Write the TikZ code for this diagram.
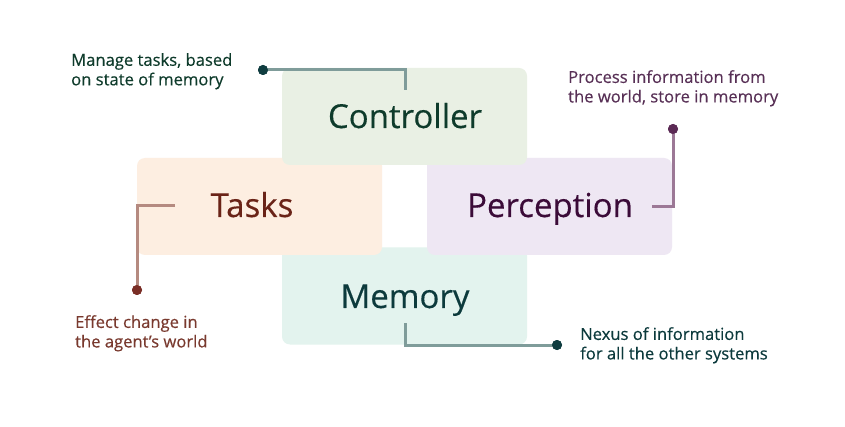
\documentclass[tikz,border=0pt]{standalone}
\usepackage{fontspec}
\setmainfont{Open Sans}[FakeBold=0.35]
\definecolor{ctrlfill}{HTML}{E9F0E4}
\definecolor{ctrltext}{HTML}{0E3B2B}
\definecolor{tasksfill}{HTML}{FDEEE1}
\definecolor{taskstext}{HTML}{6A2317}
\definecolor{percfill}{HTML}{EEE7F3}
\definecolor{perctext}{HTML}{3B0B38}
\definecolor{memfill}{HTML}{E3F3EE}
\definecolor{memtext}{HTML}{0C3A3C}
\definecolor{grayline}{HTML}{7F9C9A}
\definecolor{darkdot}{HTML}{0F3D40}
\definecolor{tasksline}{HTML}{B58A80}
\definecolor{tasksdot}{HTML}{7A2E26}
\definecolor{percline}{HTML}{9C7896}
\definecolor{percdot}{HTML}{5B2A55}
\tikzset{
  box/.style={rounded corners=8pt, minimum width=245pt, minimum height=97pt, inner sep=0pt},
  boxlabel/.style={font=\fontsize{33}{38}\selectfont, inner sep=0pt, anchor=base},
  note/.style={font=\fontsize{16.6}{19.5}\selectfont, align=left, inner sep=0pt, anchor=north west},
  pin/.style={circle, inner sep=0pt, minimum size=10pt},
  leader/.style={line width=3pt}
}
\begin{document}
\begin{tikzpicture}[x=1pt,y=-1pt]
\useasboundingbox (0,0) rectangle (845,427);
\fill[white] (0,0) rectangle (845,427);
% boxes
\node[box, fill=memfill] (mem) at (404.5,296) {};
\node[box, fill=tasksfill] (tasks) at (259.5,206.5) {};
\node[box, fill=percfill] (perc) at (549.5,206.5) {};
\node[box, fill=ctrlfill] (ctrl) at (404.5,116.5) {};
% box labels
\node[boxlabel, text=memtext] (memlbl) at (405,308) {Memory};
\node[boxlabel, text=taskstext] (taskslbl) at (252,217) {Tasks};
\node[boxlabel, text=perctext] (perclbl) at (550,217) {Perception};
\node[boxlabel, text=ctrltext] (ctrllbl) at (405,128) {Controller};
% pins
\node[pin, fill=darkdot] (ctrldot) at (263,70) {};
\node[pin, fill=percdot] (percdot) at (673,129) {};
\node[pin, fill=tasksdot] (tasksdot) at (137,290) {};
\node[pin, fill=darkdot] (memdot) at (557,345) {};
\coordinate (ctrlend) at (405,90);
\coordinate (percend) at (652,207);
\coordinate (tasksend) at (175,206);
\coordinate (memend) at (405,323);
% leaders
\draw[leader, grayline] (ctrlend) |- (ctrldot.center);
\draw[leader, percline] (percend) -| (percdot.center);
\draw[leader, tasksline] (tasksend) -| (tasksdot.center);
\draw[leader, grayline] (memend) |- (memdot.center);
\node[pin, fill=darkdot] at (ctrldot) {};
\node[pin, fill=percdot] at (percdot) {};
\node[pin, fill=tasksdot] at (tasksdot) {};
\node[pin, fill=darkdot] at (memdot) {};
% notes
\node[note, text=ctrltext] (ctrlnote) at (71,53) {Manage tasks, based\\on state of memory};
\node[note, text=perctext!85!white] (percnote) at (568,70) {Process information from\\the world, store in memory};
\node[note, text=taskstext!90!white] (tasksnote) at (75,315) {Effect change in\\the agent’s world};
\node[note, text=memtext] (memnote) at (580,327) {Nexus of information\\for all the other systems};
\end{tikzpicture}
\end{document}
